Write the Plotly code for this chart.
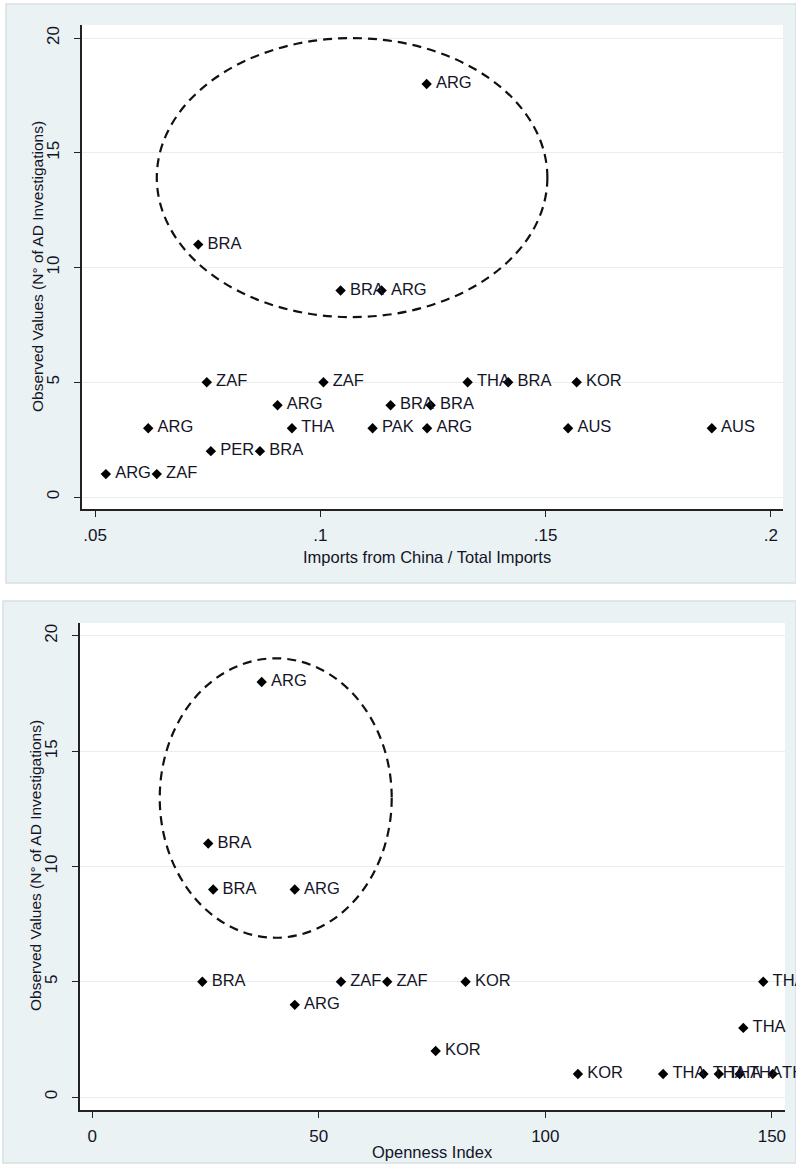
import plotly.graph_objects as go

# ---------------- data: panel 1 (import share from China) ----------------
p1_labels = ["ARG", "BRA", "BRA", "ARG", "ZAF", "ZAF", "THA", "BRA", "KOR",
             "ARG", "BRA", "BRA", "ARG", "THA", "PAK", "ARG", "AUS", "AUS",
             "PER", "BRA", "ARG", "ZAF"]
p1_x = [0.1236, 0.0729, 0.1045, 0.1136, 0.0748, 0.1007, 0.1327, 0.1417, 0.1569,
        0.0905, 0.1156, 0.1245, 0.0618, 0.0937, 0.1116, 0.1237, 0.1550, 0.1869,
        0.0757, 0.0866, 0.0524, 0.0637]
p1_y = [18, 11, 9, 9, 5, 5, 5, 5, 5,
        4, 4, 4, 3, 3, 3, 3, 3, 3,
        2, 2, 1, 1]
p1_xticks = [0.05, 0.1, 0.15, 0.2]
p1_xticklabels = [".05", ".1", ".15", ".2"]
p1_ellipse = dict(x0=0.0637, x1=0.1504, y0=7.84, y1=20.0)

# ---------------- data: panel 2 (openness index) ----------------
p2_labels = ["ARG", "BRA", "BRA", "ARG", "BRA", "ZAF", "ZAF", "KOR", "THA",
             "ARG", "THA", "KOR", "KOR", "THA", "THA", "THA", "THA", "THA"]
p2_x = [37.4, 25.6, 26.7, 44.7, 24.3, 54.9, 65.1, 82.4, 148.1,
        44.7, 143.7, 75.8, 107.2, 126.0, 134.9, 138.3, 142.9, 150.2]
p2_y = [18, 11, 9, 9, 5, 5, 5, 5, 5,
        4, 3, 2, 1, 1, 1, 1, 1, 1]
p2_xticks = [0, 50, 100, 150]
p2_xticklabels = ["0", "50", "100", "150"]
p2_ellipse = dict(x0=14.9, x1=66.1, y0=6.91, y1=19.03)

yticks = [0, 5, 10, 15, 20]
ytitle = "Observed Values (N° of AD Investigations)"
x1title = "Imports from China / Total Imports"
x2title = "Openness Index"

# ---------------- style ----------------
W, H = 796, 1165
FONT = "Liberation Sans, Arial, sans-serif"
BG = "#eaf2f3"
GRID = "#e6eef0"
AX = "#222222"
TXT = "#141428"


def px_x(p):
    return p / W


def px_y(p):
    return 1 - p / H


fig = go.Figure()

for lab, xs, ys, xa, ya in [(p1_labels, p1_x, p1_y, "x", "y"),
                            (p2_labels, p2_x, p2_y, "x2", "y2")]:
    fig.add_trace(go.Scatter(
        x=xs, y=ys, text=["\u2009" + s for s in lab], mode="markers+text",
        textposition="middle right",
        textfont=dict(family=FONT, size=16.5, color=TXT),
        marker=dict(symbol="diamond", size=8, color="black"),
        cliponaxis=False, showlegend=False, hoverinfo="skip",
        xaxis=xa, yaxis=ya))

axis_common = dict(showline=True, linecolor=AX, linewidth=1.5,
                   ticks="outside", ticklen=6, tickwidth=1.3, tickcolor=AX,
                   zeroline=False, mirror=False,
                   tickfont=dict(family=FONT, size=17, color=TXT))

fig.update_layout(
    width=W, height=H,
    margin=dict(l=0, r=0, t=0, b=0),
    paper_bgcolor=BG, plot_bgcolor="white",
    showlegend=False,
    xaxis=dict(domain=[px_x(82), px_x(783)], range=[0.0471, 0.2027],
               tickvals=p1_xticks, ticktext=p1_xticklabels, showgrid=False,
               anchor="y", ticklabelstandoff=4, **axis_common),
    yaxis=dict(domain=[px_y(509), px_y(25)], range=[-0.52, 20.57],
               tickvals=yticks, tickangle=-90, showgrid=True, gridcolor=GRID,
               gridwidth=1, anchor="x", ticklabelstandoff=8, **axis_common),
    xaxis2=dict(domain=[px_x(80), px_x(785)], range=[-2.7, 152.9],
                tickvals=p2_xticks, ticktext=p2_xticklabels, showgrid=False,
                anchor="y2", ticklabelstandoff=4, **axis_common),
    yaxis2=dict(domain=[px_y(1110), px_y(623)], range=[-0.56, 20.56],
                tickvals=yticks, tickangle=-90, showgrid=True, gridcolor=GRID,
                gridwidth=1, anchor="x2", ticklabelstandoff=8, **axis_common),
)

shapes = []
# white areas outside the two graph regions
for (x0, y0, x1, y1) in [(0, 0, W, 4), (0, 0, 6, 583), (0, 583, W, 601),
                         (0, 601, 3, H), (0, 1163, W, H)]:
    shapes.append(dict(type="rect", xref="paper", yref="paper", layer="below",
                       x0=px_x(x0), x1=px_x(x1), y0=px_y(y1), y1=px_y(y0),
                       fillcolor="white", line=dict(width=0)))
# faint frame lines of graph regions
for (x0, y0, x1, y1) in [(6, 4, W, 583), (3, 601, W, 1163)]:
    shapes.append(dict(type="rect", xref="paper", yref="paper", layer="below",
                       x0=px_x(x0), x1=px_x(x1), y0=px_y(y1), y1=px_y(y0),
                       fillcolor="rgba(0,0,0,0)", line=dict(color="#d6dfe2", width=1.5)))
# dashed ellipses
for e, xa, ya in [(p1_ellipse, "x", "y"), (p2_ellipse, "x2", "y2")]:
    shapes.append(dict(type="circle", xref=xa, yref=ya, layer="above",
                       x0=e["x0"], x1=e["x1"], y0=e["y0"], y1=e["y1"],
                       line=dict(color="#111111", width=2.2, dash="9px,6px")))
fig.update_layout(shapes=shapes)

ann = []
for (cx, cy) in [(37, 267), (35, 866)]:
    ann.append(dict(text=ytitle, xref="paper", yref="paper", x=px_x(cx), y=px_y(cy),
                    xanchor="center", yanchor="middle",
                    textangle=-90, showarrow=False,
                    font=dict(family=FONT, size=15.5, color=TXT)))
ann.append(dict(text=x1title, xref="paper", yref="paper", x=px_x(427), y=px_y(557),
                xanchor="center", yanchor="middle",
                showarrow=False, font=dict(family=FONT, size=16.5, color=TXT)))
ann.append(dict(text=x2title, xref="paper", yref="paper", x=px_x(432), y=px_y(1152),
                xanchor="center", yanchor="middle",
                showarrow=False, font=dict(family=FONT, size=16.5, color=TXT)))
fig.update_layout(annotations=ann)

fig.write_html("out.html", config={"displayModeBar": False},
               post_script="document.body.style.margin='0';")
